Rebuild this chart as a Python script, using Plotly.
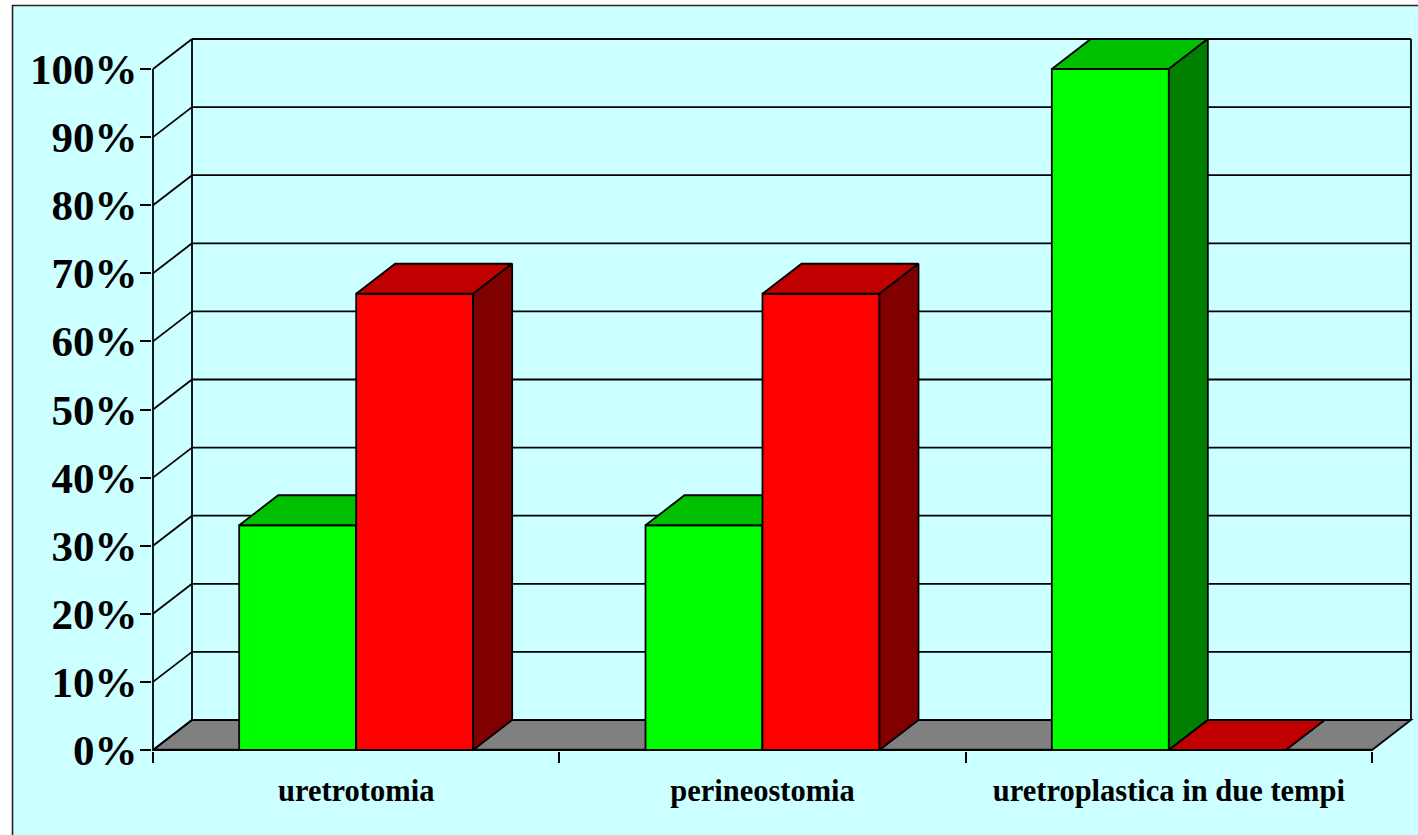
import plotly.graph_objects as go

categories = ["uretrotomia", "perineostomia", "uretroplastica in due tempi"]
green_values = [33, 33, 100]
red_values = [67, 67, 0]
y_ticks = [0, 10, 20, 30, 40, 50, 60, 70, 80, 90, 100]
y_labels = [f"{v}%" for v in y_ticks]

W, H = 1418, 835
X0, X3, Y0, Y100 = 153.0, 1372.0, 750.0, 69.0
DEPTH_X, DEPTH_Y = 39.0, 30.0
PX_PER_CAT = (X3 - X0) / 3
PX_PER_PCT = (Y0 - Y100) / 100
dx = DEPTH_X / PX_PER_CAT
dy = DEPTH_Y / PX_PER_PCT
BAR_W = 117 / PX_PER_CAT

# plot area, slightly larger than the chart box so outlines aren't clipped
L, R, T, B = 152.0, 1414.0, 36.0, 751.0
x_range = [(L - X0) / PX_PER_CAT, (R - X0) / PX_PER_CAT]
y_range = [(Y0 - B) / PX_PER_PCT, (Y0 - T) / PX_PER_PCT]

INK = "#000000"
LW = 1.8
BG = "#CCFFFF"
FLOOR = "#808080"
GREEN, GREEN_TOP, GREEN_SIDE = "#00FF00", "#00C000", "#008000"
RED, RED_TOP, RED_SIDE = "#FF0000", "#C00000", "#800000"
xc = [i + 0.5 for i in range(len(categories))]


def path(points):
    return "M " + " L ".join(f"{a},{b}" for a, b in points) + " Z"


shapes = [
    dict(type="rect", xref="paper", yref="paper",
         x0=(12.5 - L) / (R - L), x1=(W + 20 - L) / (R - L),
         y0=(B - (H + 20)) / (B - T), y1=(B - 5.5) / (B - T),
         fillcolor=BG, line=dict(color="#222222", width=1.6), layer="below"),
    dict(type="path", layer="below", xref="x", yref="y",
         path=path([(0, 0), (3, 0), (3 + dx, dy), (dx, dy)]),
         fillcolor=FLOOR, line=dict(color=INK, width=LW)),
]
for v in y_ticks:
    shapes.append(dict(type="line", layer="below", xref="x", yref="y",
                       x0=dx, x1=3 + dx, y0=v + dy, y1=v + dy,
                       line=dict(color=INK, width=LW)))
    shapes.append(dict(type="line", layer="below", xref="x", yref="y",
                       x0=0, x1=dx, y0=v, y1=v + dy,
                       line=dict(color=INK, width=LW)))
for x0, x1, y0, y1 in [(0, 0, 0, 100), (dx, dx, dy, 100 + dy),
                       (3 + dx, 3 + dx, dy, 100 + dy), (0, 3, 0, 0)]:
    shapes.append(dict(type="line", layer="below", xref="x", yref="y",
                       x0=x0, x1=x1, y0=y0, y1=y1,
                       line=dict(color=INK, width=LW + (0.6 if y0 == y1 else 0))))


def add_series(fig, values, left_shift, front, top, side, xa, ya):
    lefts = [c + left_shift for c in xc]
    fig.add_trace(go.Bar(x=[a + BAR_W / 2 for a in lefts], y=values, width=BAR_W,
                         marker=dict(color=front, line=dict(color=INK, width=LW)),
                         xaxis=xa, yaxis=ya, hoverinfo="skip", showlegend=False))
    for a, v in zip(lefts, values):
        b = a + BAR_W
        top_x = [a, b, b + dx, a + dx, a]
        top_y = [v, v, v + dy, v + dy, v]
        fig.add_trace(go.Scatter(x=top_x, y=top_y, mode="lines", fill="toself",
                                 fillcolor=top, line=dict(color=INK, width=LW),
                                 xaxis=xa, yaxis=ya, hoverinfo="skip", showlegend=False))
        if v > 0:
            side_x = [b, b + dx, b + dx, b, b]
            side_y = [0, dy, v + dy, v, 0]
            fig.add_trace(go.Scatter(x=side_x, y=side_y, mode="lines", fill="toself",
                                     fillcolor=side, line=dict(color=INK, width=LW),
                                     xaxis=xa, yaxis=ya, hoverinfo="skip", showlegend=False))


fig = go.Figure()
add_series(fig, green_values, -BAR_W, GREEN, GREEN_TOP, GREEN_SIDE, "x", "y")
add_series(fig, red_values, 0, RED, RED_TOP, RED_SIDE, "x2", "y2")

fig.update_layout(
    width=W, height=H, autosize=False,
    margin=dict(l=L, r=W - R, t=T, b=H - B, pad=0),
    paper_bgcolor="#FFFFFF", plot_bgcolor="rgba(0,0,0,0)",
    barmode="overlay", showlegend=False, shapes=shapes,
    font=dict(family="Liberation Serif", color=INK),
    xaxis=dict(range=x_range, tickmode="array", tickvals=xc, ticktext=categories,
               ticks="outside", ticklen=0, showgrid=False, zeroline=False, showline=False,
               tickfont=dict(family="Liberation Serif", size=30.5, color=INK, weight="bold"),
               ticklabelstandoff=12,
               minor=dict(tickmode="array", tickvals=[0, 1, 2, 3], ticks="outside",
                          ticklen=11, tickwidth=LW, tickcolor=INK, showgrid=False)),
    yaxis=dict(range=y_range, tickmode="array", tickvals=y_ticks, ticktext=y_labels,
               ticks="outside", ticklen=11, tickwidth=LW, tickcolor=INK,
               showgrid=False, zeroline=False, showline=False,
               tickfont=dict(family="Liberation Serif", size=43, color=INK, weight="bold"),
               ticklabelstandoff=-6),
    xaxis2=dict(range=x_range, overlaying="x", visible=False, anchor="y2"),
    yaxis2=dict(range=y_range, overlaying="y", visible=False, anchor="x2"),
)

fig.write_html("out.html", config=dict(displayModeBar=False),
               post_script="document.body.style.margin='0';document.body.style.overflow='hidden';")
